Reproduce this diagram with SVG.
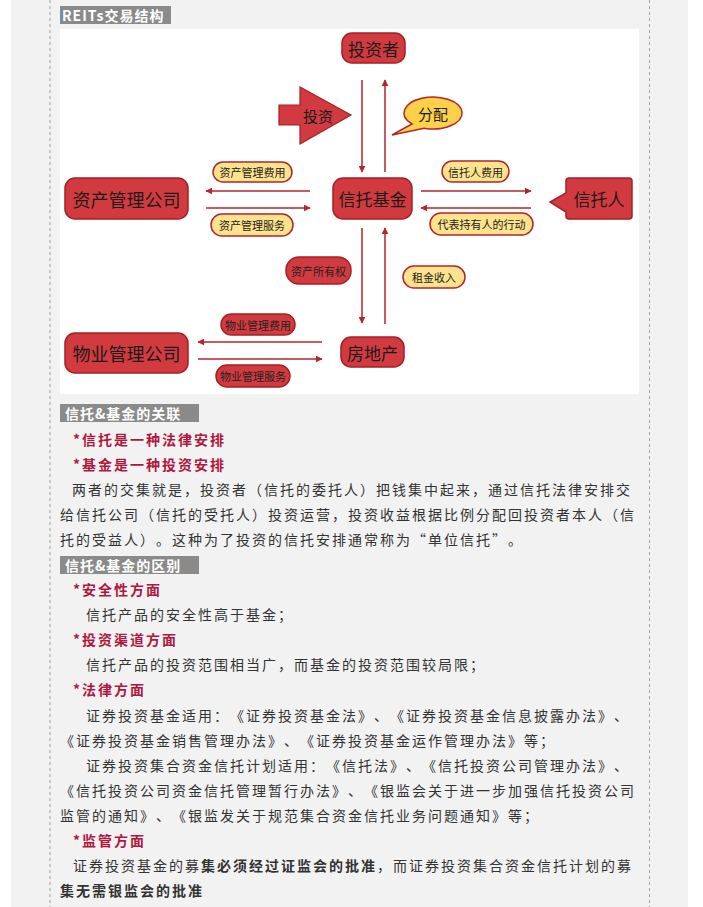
<svg xmlns="http://www.w3.org/2000/svg" width="703" height="907" viewBox="0 0 703 907">
<style>
text{text-spacing-trim:space-all}
.node{fill:#d13b40;stroke:#a51f25;stroke-width:1.5}
.pillR{fill:#d13b40;stroke:#a51f25;stroke-width:1.5}
.pillY{fill:#fde38c;stroke:#b3242a;stroke-width:1.5}
.nt{font-family:"Noto Sans CJK SC",sans-serif;font-size:17px;fill:#1a1a1a;text-anchor:middle;dominant-baseline:central}
.pt{font-family:"Noto Sans CJK SC",sans-serif;font-size:11px;fill:#222;text-anchor:middle;dominant-baseline:central}
.ln{stroke:#b3262c;stroke-width:1.5;fill:none}
.hd{fill:#8a8a8a}
.ht{font-family:"Noto Sans CJK SC",sans-serif;font-size:14px;font-weight:bold;fill:#fff;letter-spacing:1px}
.rd{font-family:"Noto Sans CJK SC",sans-serif;font-size:14px;font-weight:bold;fill:#b0173e;letter-spacing:2px}
.bd{font-family:"Noto Sans CJK SC",sans-serif;font-size:14px;fill:#333;letter-spacing:2px}
.bb{font-weight:bold}
</style>
<defs>
<marker id="ah2" viewBox="0 0 10 10" refX="9" refY="5" markerWidth="7" markerHeight="7" orient="auto" markerUnits="userSpaceOnUse">
<path d="M0,0 L10,5 L0,10 Z" fill="#b3262c"/>
</marker>
</defs>
<rect x="0" y="0" width="703" height="907" fill="#ffffff"/>
<rect x="11" y="0" width="677" height="907" fill="#f2f2f2"/>
<line x1="50" y1="0" x2="50" y2="907" stroke="#a0a0a0" stroke-dasharray="3,3"/>
<line x1="649.5" y1="0" x2="649.5" y2="907" stroke="#a0a0a0" stroke-dasharray="3,3"/>

<g id="title1">
<rect class="hd" x="60" y="6" width="111" height="18"/>
<text class="ht" x="62" y="20.5">REITs交易结构</text>
</g>
<rect x="60" y="29" width="579" height="365" fill="#ffffff"/>

<g id="connectors">
<line class="ln" x1="362" y1="80" x2="362" y2="172" marker-end="url(#ah2)"/>
<line class="ln" x1="385" y1="172" x2="385" y2="80" marker-end="url(#ah2)"/>
<line class="ln" x1="310" y1="191" x2="206" y2="191" marker-end="url(#ah2)"/>
<line class="ln" x1="206" y1="208" x2="310" y2="208" marker-end="url(#ah2)"/>
<line class="ln" x1="421" y1="191" x2="531" y2="191" marker-end="url(#ah2)"/>
<line class="ln" x1="531" y1="208" x2="421" y2="208" marker-end="url(#ah2)"/>
<line class="ln" x1="362" y1="228" x2="362" y2="323" marker-end="url(#ah2)"/>
<line class="ln" x1="385" y1="324" x2="385" y2="228" marker-end="url(#ah2)"/>
<line class="ln" x1="322" y1="342" x2="198" y2="342" marker-end="url(#ah2)"/>
<line class="ln" x1="198" y1="359" x2="322" y2="359" marker-end="url(#ah2)"/>
</g>

<g id="investor">
<rect class="node" x="342" y="33" width="63" height="30" rx="10"/>
<text class="nt" x="373.5" y="48">投资者</text>
</g>
<g id="invest-arrow">
<path d="M279,105 L300,105 L300,87 L351,115 L300,144 L300,125 L279,125 Z" fill="#d13b40" stroke="#a51f25" stroke-width="1.2"/>
<text class="nt" x="318" y="115" style="font-size:15px">投资</text>
</g>
<g id="distribute">
<path d="M412,124 A29,16 0 1,1 424,128.2 L392,135 Z" class="pillY" style="fill:#fdd14a"/>
<text class="nt" x="433" y="113" style="font-size:15px">分配</text>
</g>
<g id="asset-mgr">
<rect class="node" x="65" y="178" width="123" height="41" rx="10"/>
<text class="nt" x="126.5" y="198.5" style="font-size:18px">资产管理公司</text>
</g>
<g id="lbl-amf">
<rect class="pillY" x="213" y="162" width="79" height="20" rx="10"/>
<text class="pt" x="252.5" y="172">资产管理费用</text>
</g>
<g id="lbl-ams">
<rect class="pillY" x="211" y="214" width="82" height="22" rx="11"/>
<text class="pt" x="252" y="225">资产管理服务</text>
</g>
<g id="trust-fund">
<rect class="node" x="333" y="178" width="79" height="41" rx="10"/>
<text class="nt" x="372.5" y="198.5">信托基金</text>
</g>
<g id="lbl-tf">
<rect class="pillY" x="442" y="161" width="67" height="21" rx="10.5"/>
<text class="pt" x="475.5" y="171.5">信托人费用</text>
</g>
<g id="lbl-rep">
<rect class="pillY" x="430" y="213" width="103" height="22" rx="11"/>
<text class="pt" x="481.5" y="224">代表持有人的行动</text>
</g>
<g id="trustee">
<path class="node" d="M569,178 L629,178 Q632,178 632,181 L632,216 Q632,219 629,219 L569,219 Q566,219 566,216 L566,212 L550,202 L566,193 L566,181 Q566,178 569,178 Z"/>
<text class="nt" x="599" y="198.5">信托人</text>
</g>
<g id="lbl-own">
<rect class="pillR" x="286" y="257" width="65" height="27" rx="13"/>
<text class="pt" x="318.5" y="270.5">资产所有权</text>
</g>
<g id="lbl-rent">
<rect class="pillY" x="403" y="266" width="62" height="22" rx="11"/>
<text class="pt" x="434" y="277">租金收入</text>
</g>
<g id="property">
<rect class="node" x="341" y="337" width="63" height="30" rx="10"/>
<text class="nt" x="372.5" y="352">房地产</text>
</g>
<g id="prop-mgr">
<rect class="node" x="65" y="333" width="123" height="40" rx="10"/>
<text class="nt" x="126.5" y="353" style="font-size:18px">物业管理公司</text>
</g>
<g id="lbl-pmf">
<rect class="pillR" x="221" y="314" width="74" height="21" rx="10.5"/>
<text class="pt" x="258" y="324.5">物业管理费用</text>
</g>
<g id="lbl-pms">
<rect class="pillR" x="216" y="365" width="74" height="22" rx="11"/>
<text class="pt" x="253" y="376">物业管理服务</text>
</g>

<g id="sec1">
<rect class="hd" x="60" y="404" width="139" height="18"/>
<text class="ht" x="65" y="418.5">信托&amp;基金的关联</text>
<text class="rd" x="73" y="445">*信托是一种法律安排</text>
<text class="rd" x="73" y="470">*基金是一种投资安排</text>
<text class="bd" x="72" y="495">两者的交集就是，投资者（信托的委托人）把钱集中起来，通过信托法律安排交</text>
<text class="bd" x="60" y="520">给信托公司（信托的受托人）投资运营，投资收益根据比例分配回投资者本人（信</text>
<text class="bd" x="60" y="545">托的受益人）。这种为了投资的信托安排通常称为“单位信托”。</text>
</g>
<g id="sec2">
<rect class="hd" x="60" y="556" width="139" height="18"/>
<text class="ht" x="65" y="570.5">信托&amp;基金的区别</text>
<text class="rd" x="73" y="595">*安全性方面</text>
<text class="bd" x="86" y="620">信托产品的安全性高于基金；</text>
<text class="rd" x="73" y="645">*投资渠道方面</text>
<text class="bd" x="86" y="670">信托产品的投资范围相当广，而基金的投资范围较局限；</text>
<text class="rd" x="73" y="695">*法律方面</text>
<text class="bd" x="86" y="721">证券投资基金适用：《证券投资基金法》、《证券投资基金信息披露办法》、</text>
<text class="bd" x="60" y="746">《证券投资基金销售管理办法》、《证券投资基金运作管理办法》等；</text>
<text class="bd" x="86" y="771">证券投资集合资金信托计划适用：《信托法》、《信托投资公司管理办法》、</text>
<text class="bd" x="60" y="796">《信托投资公司资金信托管理暂行办法》、《银监会关于进一步加强信托投资公司</text>
<text class="bd" x="60" y="821">监管的通知》、《银监发关于规范集合资金信托业务问题通知》等；</text>
<text class="rd" x="73" y="846">*监管方面</text>
<text class="bd" x="73" y="871">证券投资基金的募<tspan class="bb">集必须经过证监会的批准</tspan>，而证券投资集合资金信托计划的募</text>
<text class="bd bb" x="60" y="896">集无需银监会的批准</text>
</g>
</svg>
